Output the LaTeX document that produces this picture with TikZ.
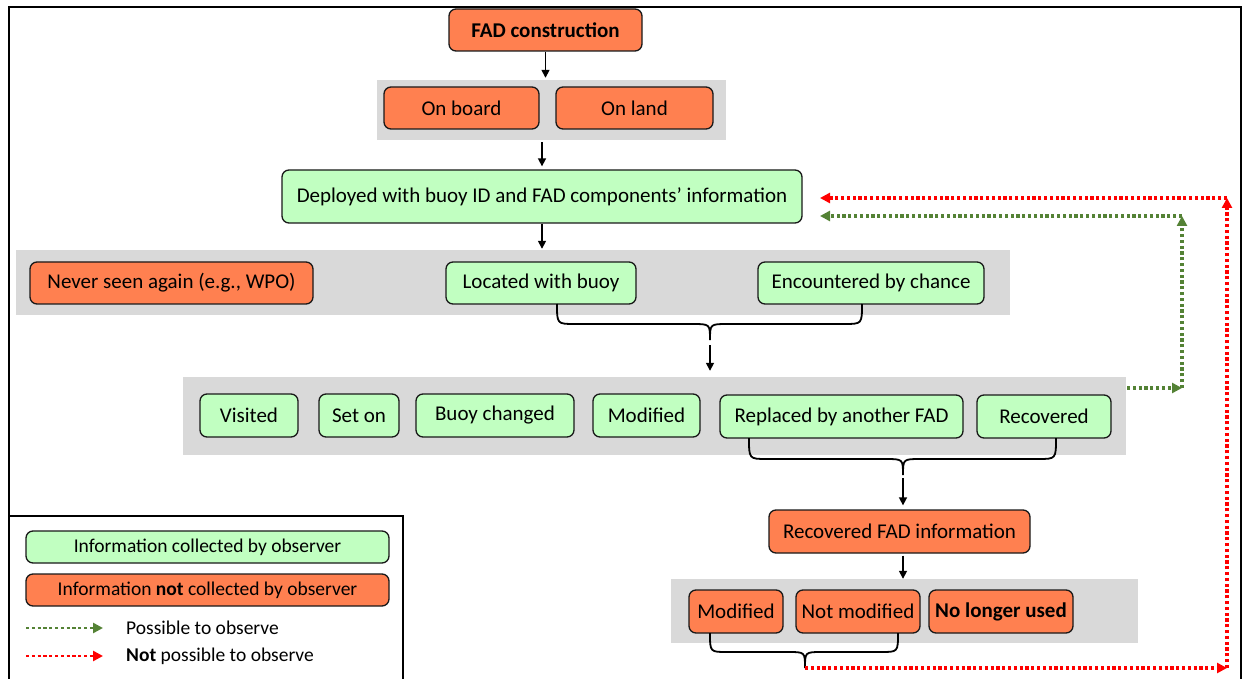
\documentclass[tikz,border=0pt]{standalone}
\usepackage{fontspec}
\setmainfont{Carlito}
\usetikzlibrary{arrows.meta}
\definecolor{orangeF}{RGB}{255,128,80}
\definecolor{greenF}{RGB}{193,255,193}
\definecolor{grayF}{RGB}{217,217,217}
\definecolor{dgreen}{RGB}{84,130,53}
\definecolor{rred}{RGB}{255,0,0}
\begin{document}
\begin{tikzpicture}[x=1pt,y=-1pt,
  box/.style={draw=black!90, line width=1.3pt, rounded corners=7pt, inner sep=0pt, font=\fontsize{21}{24}\selectfont},
  org/.style={box, fill=orangeF},
  grn/.style={box, fill=greenF},
  lgbox/.style={box, font=\fontsize{19.5}{22}\selectfont},
  grp/.style={fill=grayF, draw=none, inner sep=0pt},
  arr/.style={draw=black, line width=1.6pt, -{Triangle[length=8pt,width=8pt]}},
  brace/.style={draw=black, line width=1.8pt},
  dotg/.style={draw=dgreen, line width=3.2pt, dash pattern=on 3.2pt off 2.6pt, -{Triangle[length=10pt,width=10pt]}},
  dotr/.style={draw=rred, line width=3.2pt, dash pattern=on 3.2pt off 2.6pt, -{Triangle[length=10pt,width=10pt]}},
  lgtext/.style={anchor=west, inner sep=0pt, font=\fontsize{19.5}{22}\selectfont}
]
\useasboundingbox (0,0) rectangle (1243,679);
% outer frame
\draw[line width=2pt] (9,690) -- (9,7) -- (1241,7) -- (1241,690);
% group backgrounds
\node[grp, minimum width=349pt, minimum height=60pt] (gray1) at (551.5,110) {};
\node[grp, minimum width=994pt, minimum height=65pt] (gray2) at (513,282.5) {};
\node[grp, minimum width=943pt, minimum height=78pt] (gray3) at (654.5,416) {};
\node[grp, minimum width=467pt, minimum height=64pt] (gray4) at (904.5,611) {};
% boxes
\node[org, minimum width=193pt, minimum height=42pt, font=\fontsize{21}{24}\selectfont\bfseries] (fad) at (545.5,30) {FAD construction};
\node[org, minimum width=155pt, minimum height=42pt] (onboard) at (461.5,108) {On board};
\node[org, minimum width=157pt, minimum height=42pt] (onland) at (634.5,108) {On land};
\node[grn, minimum width=520pt, minimum height=53pt] (deployed) at (542,196.5) {Deployed with buoy ID and FAD components’ information};
\node[org, minimum width=283pt, minimum height=42pt] (never) at (171.5,283) {Never seen again (e.g., WPO)};
\node[grn, minimum width=190pt, minimum height=42pt] (located) at (541,283) {Located with buoy};
\node[grn, minimum width=226pt, minimum height=42pt] (encounter) at (871,283) {Encountered by chance};
\node[grn, minimum width=98pt, minimum height=43pt] (visited) at (249,415.5) {Visited};
\node[grn, minimum width=80pt, minimum height=43pt] (seton) at (359,415.5) {Set on};
\node[grn, minimum width=158pt, minimum height=43pt] (buoych) at (495,415.5) {Buoy changed};
\node[grn, minimum width=107pt, minimum height=43pt] (modif) at (646.5,415.5) {Modified};
\node[grn, minimum width=243pt, minimum height=43pt] (replaced) at (841.5,416.5) {Replaced by another FAD};
\node[grn, minimum width=134pt, minimum height=43pt] (recovered) at (1044,416.5) {Recovered};
\node[org, minimum width=261pt, minimum height=43pt] (recfad) at (899.5,531.5) {Recovered FAD information};
\node[org, minimum width=94pt, minimum height=43pt] (mod2) at (736,611.5) {Modified};
\node[org, minimum width=124pt, minimum height=43pt] (notmod) at (858,611.5) {Not modified};
\node[org, minimum width=144pt, minimum height=43pt, font=\fontsize{21}{24}\selectfont\bfseries] (nolonger) at (1001,611.5) {No longer used};
% arrows
\draw[arr, shorten >=2pt] (fad.south) -- (fad.south |- gray1.north);
\draw[arr, shorten <=2pt, shorten >=3pt] (deployed.north |- gray1.south) -- (deployed.north);
\draw[arr, shorten >=1pt] (deployed.south) -- (deployed.south |- gray2.north);
% brace 1
\coordinate (t1) at (710,340);
\draw[brace] (557,304) .. controls (557,324) and (557,324) .. (575,324) -- (692,324) .. controls (710,324) and (710,324) .. (t1) .. controls (710,324) and (710,324) .. (728,324) -- (844,324) .. controls (862,324) and (862,324) .. (862,304);
\draw[arr, shorten <=5pt, shorten >=6pt] (t1) -- (t1 |- gray3.north);
% brace 2
\coordinate (t2) at (903,475);
\draw[brace] (749,438) .. controls (749,459) and (749,459) .. (767,459) -- (885,459) .. controls (903,459) and (903,459) .. (t2) .. controls (903,459) and (903,459) .. (921,459) -- (1038,459) .. controls (1056,459) and (1056,459) .. (1056,438);
\draw[arr, shorten <=3pt, shorten >=4pt] (t2) -- (t2 |- recfad.north);
\draw[arr, shorten <=2pt] (recfad.south -| t2) -- (t2 |- gray4.north);
% brace 3
\coordinate (t3) at (805,668);
\draw[brace] (710,633) .. controls (710,652) and (710,652) .. (727,652) -- (788,652) .. controls (805,652) and (805,652) .. (t3) .. controls (805,652) and (805,652) .. (822,652) -- (881,652) .. controls (898,652) and (898,652) .. (898,633);
% feedback loops
\coordinate (g0) at (1127,388);
\coordinate (g1) at (1182,388);
\coordinate (g2) at (1182,216);
\coordinate (gE) at (820,216);
\draw[dotg] (g0) -- (g1);
\draw[dotg] (g1) -- (g2);
\draw[dotg] (g2) -- (gE);
\coordinate (r1) at (1227,668);
\coordinate (r2) at (1227,198);
\coordinate (rE) at (820,198);
\draw[dotr] (t3) -- (r1);
\draw[dotr] (r1) -- (r2);
\draw[dotr] (r2) -- (rE);
% legend
\draw[line width=1.5pt] (9,516) -- (403,516) -- (403,690);
\node[lgbox, fill=greenF, minimum width=363pt, minimum height=32pt] (lg1) at (207.5,547) {Information collected by observer};
\node[lgbox, fill=orangeF, minimum width=363pt, minimum height=32pt] (lg2) at (207.5,590) {Information \textbf{not} collected by observer};
\coordinate (lgA) at (26,628);
\coordinate (lgB) at (103,628);
\coordinate (lgC) at (26,656);
\coordinate (lgD) at (103,656);
\draw[dotg, line width=2.6pt] (lgA) -- (lgB);
\draw[dotr, line width=2.6pt] (lgC) -- (lgD);
\node[lgtext] (lt1) at (126,628) {Possible to observe};
\node[lgtext] (lt2) at (126,656) {\textbf{Not} possible to observe};
\end{tikzpicture}
\end{document}
